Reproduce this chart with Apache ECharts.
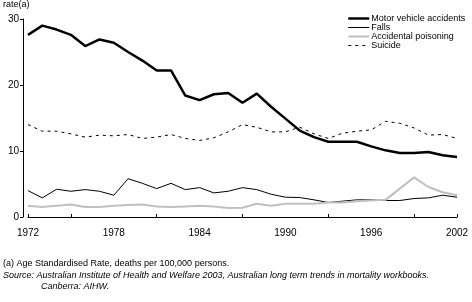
<!DOCTYPE html>
<html>
<head>
<meta charset="utf-8">
<script src="https://cdn.jsdelivr.net/npm/echarts@6/dist/echarts.min.js"></script>
<style>
  html, body { margin: 0; padding: 0; background: #ffffff; }
  #chart { width: 472px; height: 302px; }
</style>
</head>
<body>
<div id="chart"></div>
<script>
var years = [];
for (var y = 1972; y <= 2002; y++) years.push(y);

var motorVehicle = [27.6, 29.0, 28.4, 27.6, 25.9, 26.9, 26.4, 25.0, 23.7, 22.2,
  22.2, 18.4, 17.7, 18.6, 18.8, 17.3, 18.7, 16.7, 14.9, 13.1,
  12.1, 11.4, 11.4, 11.4, 10.7, 10.1, 9.7, 9.7, 9.85, 9.35, 9.1];
var falls = [4.0, 2.9, 4.2, 3.9, 4.15, 3.9, 3.3, 5.8, 5.1, 4.3,
  5.1, 4.15, 4.45, 3.65, 3.9, 4.45, 4.15, 3.45, 3.0, 2.95,
  2.6, 2.2, 2.4, 2.6, 2.6, 2.5, 2.5, 2.8, 2.9, 3.3, 3.0];
var poisoning = [1.7, 1.5, 1.7, 1.9, 1.5, 1.5, 1.7, 1.8, 1.9, 1.6,
  1.5, 1.6, 1.7, 1.6, 1.35, 1.4, 2.0, 1.7, 2.0, 2.0,
  2.0, 2.2, 2.2, 2.4, 2.5, 2.6, 4.3, 6.0, 4.55, 3.75, 3.3];
var suicide = [14.0, 13.0, 13.0, 12.6, 12.1, 12.4, 12.3, 12.5, 11.9, 12.1,
  12.5, 11.9, 11.6, 12.0, 12.9, 14.0, 13.6, 12.9, 12.9, 13.6,
  12.6, 11.9, 12.7, 13.0, 13.2, 14.5, 14.2, 13.5, 12.4, 12.5, 11.9];

var xLabels = [1972, 1978, 1984, 1990, 1996, 2002];
var xTicks = [1972, 1975, 1981, 1987, 1993, 1999, 2002];
var yTicks = [0, 10, 20, 30];

function pairs(arr) {
  return arr.map(function (v, i) { return [years[i], v]; });
}

var font = "Liberation Sans, Arial, sans-serif";
var chart = echarts.init(document.getElementById("chart"), null, { renderer: "canvas" });

chart.setOption({
  backgroundColor: "#ffffff",
  animation: false,
  grid: { left: 28, right: 15, top: 19, bottom: 85 },
  legend: {
    orient: "vertical",
    left: 342,
    top: 9,
    itemWidth: 21,
    itemHeight: 10,
    itemGap: 0,
    itemStyle: { opacity: 0 },
    textStyle: { fontFamily: font, fontSize: 9, color: "#000000", padding: [0, 0, 0, -3] },
    data: [
      { name: "Motor vehicle accidents", lineStyle: { width: 2.5 } },
      { name: "Falls", lineStyle: { width: 1 } },
      { name: "Accidental poisoning", lineStyle: { width: 2 } },
      { name: "Suicide", lineStyle: { width: 1 } }
    ]
  },
  xAxis: {
    type: "value",
    min: 1972,
    max: 2002,
    offset: 6,
    splitLine: { show: false },
    axisLine: { show: true, lineStyle: { color: "#000000", width: 1 } },
    axisTick: { show: true, length: 3, inside: true, customValues: xTicks, lineStyle: { color: "#000000" } },
    axisLabel: {
      customValues: xLabels,
      formatter: function (v) { return String(v); },
      fontFamily: font, fontSize: 10, color: "#000000", margin: 5
    }
  },
  yAxis: {
    type: "value",
    min: 0,
    max: 30,
    interval: 10,
    offset: 5,
    splitLine: { show: false },
    axisLine: { show: true, lineStyle: { color: "#000000", width: 1 } },
    axisTick: { show: true, length: 3, lineStyle: { color: "#000000" } },
    axisLabel: {
      customValues: yTicks,
      fontFamily: font, fontSize: 10, color: "#000000", margin: 4
    }
  },
  series: [
    {
      name: "Motor vehicle accidents", type: "line", symbol: "none",
      data: pairs(motorVehicle),
      lineStyle: { color: "#000000", width: 2.5 }, itemStyle: { color: "#000000" }
    },
    {
      name: "Falls", type: "line", symbol: "none",
      data: pairs(falls),
      lineStyle: { color: "#000000", width: 1 }, itemStyle: { color: "#000000" }
    },
    {
      name: "Accidental poisoning", type: "line", symbol: "none",
      data: pairs(poisoning),
      lineStyle: { color: "#c0c0c0", width: 2 }, itemStyle: { color: "#c0c0c0" }
    },
    {
      name: "Suicide", type: "line", symbol: "none",
      data: pairs(suicide),
      lineStyle: { color: "#000000", width: 1, type: [3, 4] }, itemStyle: { color: "#000000" }
    }
  ],
  graphic: [
    { type: "text", left: 3, top: 0, style: { text: "rate(a)", font: "9px " + font, fill: "#000000" } },
    { type: "text", left: 3, top: 259, style: { text: "(a) Age Standardised Rate, deaths per 100,000 persons.", font: "9px " + font, fill: "#000000" } },
    { type: "text", left: 3, top: 271, style: { text: "Source: Australian Institute of Health and Welfare 2003, Australian long term trends in mortality workbooks.", font: "italic 9px " + font, fill: "#000000" } },
    { type: "text", left: 41, top: 282, style: { text: "Canberra: AIHW.", font: "italic 9px " + font, fill: "#000000" } }
  ]
});
</script>
</body>
</html>
